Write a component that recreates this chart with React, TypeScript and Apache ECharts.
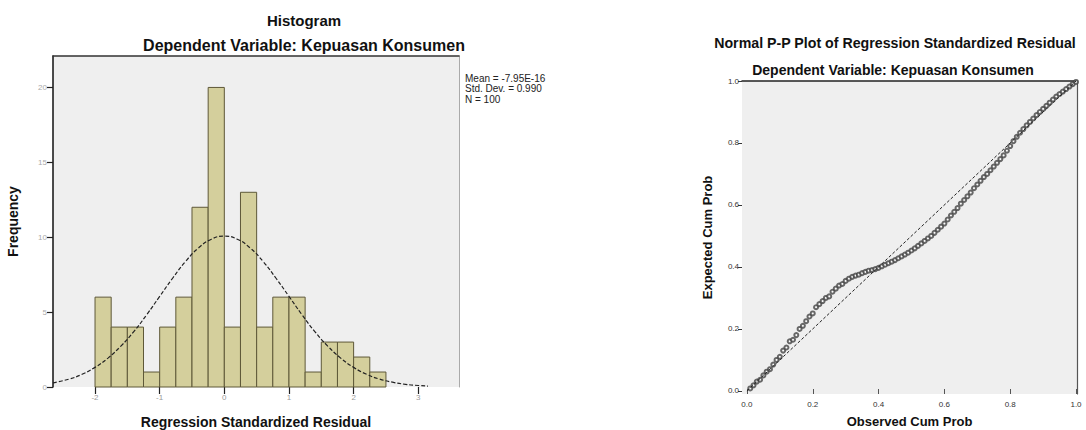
import React, { useEffect, useRef } from "react";
import * as echarts from "echarts";

// ---- Histogram data ----
const binEdges = [-2, -1.75, -1.5, -1.25, -1, -0.75, -0.5, -0.25, 0, 0.25, 0.5, 0.75, 1, 1.25, 1.5, 1.75, 2, 2.25, 2.5];
const binCounts = [6, 4, 4, 1, 4, 6, 12, 20, 4, 13, 4, 6, 6, 1, 3, 3, 2, 1];
const histXTicks = [-2, -1, 0, 1, 2, 3];
const histYTicks = [0, 5, 10, 15, 20];
// normal curve
const curveX = [-2.65, -2.4, -2.2, -2.0, -1.8, -1.6, -1.4, -1.2, -1.0, -0.8, -0.6, -0.4, -0.2, 0, 0.2, 0.4, 0.6, 0.8, 1.0, 1.2, 1.4, 1.6, 1.8, 2.0, 2.2, 2.4, 2.6, 2.8, 3.0, 3.15];
const curveY = [0.28, 0.53, 0.85, 1.31, 1.93, 2.73, 3.7, 4.83, 6.05, 7.26, 8.38, 9.28, 9.87, 10.07, 9.87, 9.28, 8.38, 7.26, 6.05, 4.83, 3.7, 2.73, 1.93, 1.31, 0.85, 0.53, 0.32, 0.18, 0.1, 0.06];
const statsLines = ["Mean = -7.95E-16", "Std. Dev. = 0.990", "N = 100"];

// ---- P-P plot data ----
const observedCumProb = [
  0.01, 0.02, 0.03, 0.04, 0.05, 0.06, 0.07, 0.08, 0.09, 0.10,
  0.11, 0.12, 0.13, 0.14, 0.15, 0.16, 0.17, 0.18, 0.19, 0.20,
  0.21, 0.22, 0.23, 0.24, 0.25, 0.26, 0.27, 0.28, 0.29, 0.30,
  0.31, 0.32, 0.33, 0.34, 0.35, 0.36, 0.37, 0.38, 0.39, 0.40,
  0.41, 0.42, 0.43, 0.44, 0.45, 0.46, 0.47, 0.48, 0.49, 0.50,
  0.51, 0.52, 0.53, 0.54, 0.55, 0.56, 0.57, 0.58, 0.59, 0.60,
  0.61, 0.62, 0.63, 0.64, 0.65, 0.66, 0.67, 0.68, 0.69, 0.70,
  0.71, 0.72, 0.73, 0.74, 0.75, 0.76, 0.77, 0.78, 0.79, 0.80,
  0.81, 0.82, 0.83, 0.84, 0.85, 0.86, 0.87, 0.88, 0.89, 0.90,
  0.91, 0.92, 0.93, 0.94, 0.95, 0.96, 0.97, 0.98, 0.99, 1.00,
];
const expectedCumProb = [
  0.008, 0.018, 0.03, 0.036, 0.05, 0.062, 0.07, 0.085, 0.1, 0.11,
  0.13, 0.14, 0.16, 0.165, 0.18, 0.2, 0.21, 0.225, 0.24, 0.25,
  0.27, 0.28, 0.29, 0.3, 0.305, 0.32, 0.33, 0.34, 0.345, 0.355,
  0.362, 0.368, 0.372, 0.375, 0.38, 0.384, 0.388, 0.39, 0.393, 0.397,
  0.402, 0.407, 0.412, 0.417, 0.422, 0.428, 0.434, 0.44, 0.446, 0.453,
  0.46, 0.468, 0.476, 0.484, 0.492, 0.5, 0.51, 0.52, 0.53, 0.54,
  0.553, 0.566, 0.578, 0.59, 0.604, 0.616, 0.628, 0.64, 0.654, 0.666,
  0.678, 0.69, 0.7, 0.712, 0.724, 0.736, 0.748, 0.76, 0.775, 0.79,
  0.806, 0.82, 0.833, 0.845, 0.857, 0.868, 0.879, 0.89, 0.9, 0.91,
  0.92, 0.93, 0.94, 0.95, 0.958, 0.966, 0.974, 0.982, 0.99, 0.997,
];
const diagonal = [[0, 0], [1, 1]];
const ppTicks = [0, 0.2, 0.4, 0.6, 0.8, 1.0];

const FONT = "'Liberation Sans', Arial, sans-serif";

export default function App() {
  const ref = useRef<HTMLDivElement>(null);
  useEffect(() => {
    if (!ref.current) return;
    const chart = echarts.init(ref.current, undefined, { renderer: "svg" });

    const barData = binCounts.map((c, i) => [binEdges[i], binEdges[i + 1], c]);
    const curveData = curveX.map((x, i) => [x, curveY[i]]);
    const ppData = observedCumProb.map((x, i) => [x, expectedCumProb[i]]);

    const histName = { fontFamily: FONT, fontWeight: "bold", fontSize: 14, color: "#111" };
    const ppName = { fontFamily: FONT, fontWeight: "bold", fontSize: 13, color: "#111" };

    const option: any = {
      animation: false,
      textStyle: { fontFamily: FONT },
      grid: [
        { left: 53, top: 56, width: 406, height: 331, show: true, backgroundColor: "#efefef", borderWidth: 0, outerBoundsMode: "none", containLabel: false },
        { left: 742, top: 81, width: 335, height: 313, show: true, backgroundColor: "#efefef", borderWidth: 0, outerBoundsMode: "none", containLabel: false },
      ],
      xAxis: [
        {
          gridIndex: 0, type: "value", min: -2.65, max: 3.63, position: "bottom",
          axisLine: { show: false, onZero: false },
          axisTick: { show: true, customValues: histXTicks, length: 7, lineStyle: { color: "#222", width: 1.2 } },
          axisLabel: { customValues: histXTicks, color: "#999", fontSize: 8, margin: 6 },
          splitLine: { show: false },
          name: "Regression Standardized Residual", nameLocation: "middle", nameGap: 28, nameTextStyle: histName,
        },
        {
          gridIndex: 0, type: "value", min: -2.65, max: 3.63, position: "top",
          axisLine: { show: true, onZero: false, lineStyle: { color: "#333", width: 1.5 } },
          axisTick: { show: false }, axisLabel: { show: false }, splitLine: { show: false },
        },
        {
          gridIndex: 1, type: "value", min: -0.015, max: 1.003, position: "bottom",
          axisLine: { show: false, onZero: false },
          axisTick: { show: true, inside: true, customValues: ppTicks, length: 5, lineStyle: { color: "#555" } },
          axisLabel: { customValues: ppTicks, color: "#333", fontSize: 8, margin: 6, formatter: (v: number) => v.toFixed(1) },
          splitLine: { show: false },
          name: "Observed Cum Prob", nameLocation: "middle", nameGap: 21, nameTextStyle: ppName,
        },
        {
          gridIndex: 1, type: "value", min: -0.015, max: 1.003, position: "top",
          axisLine: { show: true, onZero: false, lineStyle: { color: "#222", width: 1.5 } },
          axisTick: { show: false }, axisLabel: { show: false }, splitLine: { show: false },
        },
      ],
      yAxis: [
        {
          gridIndex: 0, type: "value", min: 0, max: 22.1, position: "left",
          axisLine: { show: true, onZero: false, lineStyle: { color: "#111", width: 1.5 } },
          axisTick: { show: true, customValues: histYTicks, length: 6, lineStyle: { color: "#222", width: 1.2 } },
          axisLabel: { customValues: histYTicks, color: "#aaa", fontSize: 8, margin: 6 },
          splitLine: { show: false },
          name: "Frequency", nameLocation: "middle", nameGap: 33, nameTextStyle: histName,
        },
        {
          gridIndex: 0, type: "value", min: 0, max: 22.1, position: "right",
          axisLine: { show: true, onZero: false, lineStyle: { color: "#aaa", width: 1 } },
          axisTick: { show: false }, axisLabel: { show: false }, splitLine: { show: false },
        },
        {
          gridIndex: 1, type: "value", min: -0.01, max: 1.0, position: "left",
          axisLine: { show: false, onZero: false },
          axisTick: { show: true, customValues: ppTicks, length: 4, lineStyle: { color: "#333" } },
          axisLabel: { customValues: ppTicks, color: "#333", fontSize: 8, margin: 3, formatter: (v: number) => v.toFixed(1) },
          splitLine: { show: false },
          name: "Expected Cum Prob", nameLocation: "middle", nameGap: 28, nameTextStyle: ppName,
        },
        {
          gridIndex: 1, type: "value", min: -0.01, max: 1.0, position: "right",
          axisLine: { show: true, onZero: false, lineStyle: { color: "#555", width: 1.2 } },
          axisTick: { show: false }, axisLabel: { show: false }, splitLine: { show: false },
        },
      ],
      series: [
        {
          type: "custom", xAxisIndex: 0, yAxisIndex: 0,
          encode: { x: [0, 1], y: 2 },
          data: barData,
          renderItem: (params: any, api: any) => {
            const p0 = api.coord([api.value(0), api.value(2)]);
            const p1 = api.coord([api.value(1), 0]);
            return {
              type: "rect",
              shape: { x: p0[0], y: p0[1], width: p1[0] - p0[0], height: p1[1] - p0[1] },
              style: { fill: "#d4cf9c", stroke: "#5e5838", lineWidth: 1 },
            };
          },
        },
        {
          type: "line", xAxisIndex: 0, yAxisIndex: 0, data: curveData, smooth: true,
          showSymbol: false, symbol: "none",
          lineStyle: { color: "#222", width: 1.2, type: [4, 2] },
        },
        {
          type: "line", xAxisIndex: 2, yAxisIndex: 2, data: diagonal,
          showSymbol: false, symbol: "none",
          lineStyle: { color: "#222", width: 1, type: [3, 2] },
        },
        {
          type: "scatter", xAxisIndex: 2, yAxisIndex: 2, data: ppData,
          symbol: "emptyCircle", symbolSize: 4,
          itemStyle: { color: "#444", borderColor: "#444", borderWidth: 0.6 },
        },
      ],
      graphic: [
        { type: "text", x: 304, y: 20, style: { text: "Histogram", fontFamily: FONT, fontWeight: "bold", fontSize: 15, fill: "#111", textAlign: "center", textVerticalAlign: "middle" } },
        { type: "text", x: 304, y: 45, style: { text: "Dependent Variable: Kepuasan Konsumen", fontFamily: FONT, fontWeight: "bold", fontSize: 16, fill: "#111", textAlign: "center", textVerticalAlign: "middle" } },
        { type: "text", x: 465, y: 73, style: { text: statsLines.join("\n"), fontFamily: FONT, fontSize: 10, lineHeight: 10.5, fill: "#222", textAlign: "left", textVerticalAlign: "top" } },
        { type: "text", x: 895, y: 43, style: { text: "Normal P-P Plot of Regression Standardized Residual", fontFamily: FONT, fontWeight: "bold", fontSize: 14.2, fill: "#111", textAlign: "center", textVerticalAlign: "middle" } },
        { type: "text", x: 893, y: 70, style: { text: "Dependent Variable: Kepuasan Konsumen", fontFamily: FONT, fontWeight: "bold", fontSize: 14, fill: "#111", textAlign: "center", textVerticalAlign: "middle" } },
      ],
    };
    chart.setOption(option);
    return () => chart.dispose();
  }, []);
  return (
    <div
      ref={ref}
      style={{ position: "fixed", left: 0, top: 0, width: 1086, height: 430, background: "#fff" }}
    />
  );
}
